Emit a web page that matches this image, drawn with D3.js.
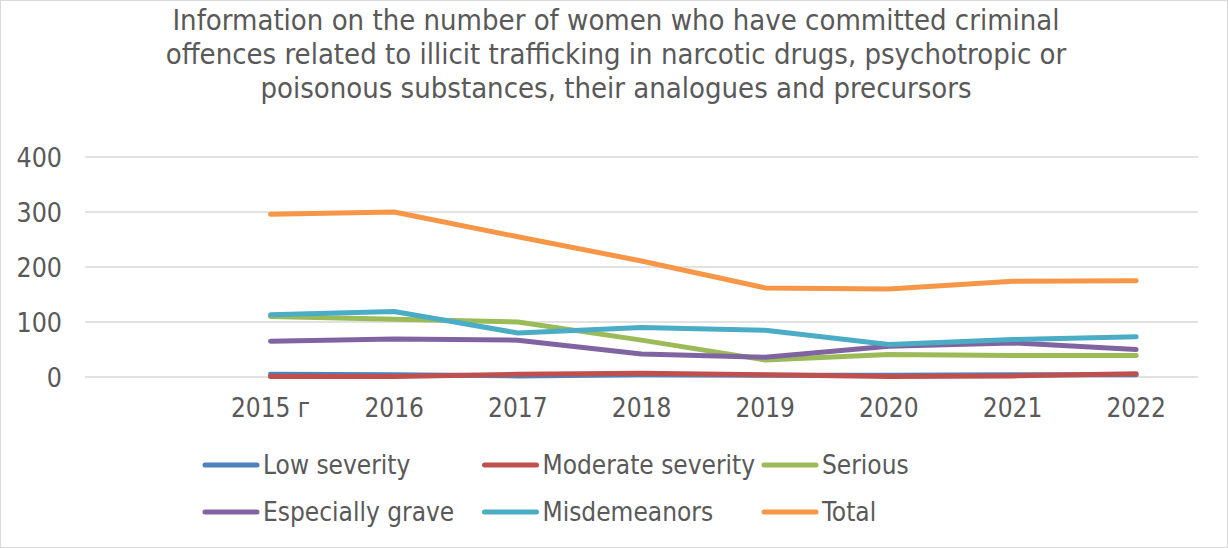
<!DOCTYPE html>
<meta charset="utf-8" />
<html>
  <style>
    body { margin: 0; background: #fff; }
    text { font-family: "DejaVu Sans Condensed", "DejaVu Sans", sans-serif; fill: #595959; }
    .grid line { stroke: #d9d9d9; stroke-width: 1.5px; }
    .series { fill: none; stroke-width: 5px; stroke-linecap: round; stroke-linejoin: round; }
  </style>
  <body>
    <svg width="1228" height="548"></svg>
    <script src="https://cdn.jsdelivr.net/npm/d3@7"></script>
    <script>
  // categories (first slot is empty, as in the original workbook)
  var years = ["", "2015 г", "2016", "2017", "2018", "2019", "2020", "2021", "2022"];
  var yTicks = [0, 100, 200, 300, 400];

  var seriesNames = ["Low severity", "Moderate severity", "Serious", "Especially grave", "Misdemeanors", "Total"];
  var lowSeverity = [5, 4, 2, 4, 3, 3, 4, 4];
  var moderateSeverity = [1, 1, 5, 7, 4, 1, 2, 6];
  var serious = [110, 105, 100, 67, 31, 41, 39, 39];
  var especiallyGrave = [65, 69, 67, 42, 36, 56, 62, 50];
  var misdemeanors = [113, 119, 80, 90, 85, 59, 68, 73];
  var total = [296, 300, 255, 211, 162, 160, 174, 175];

  var colors = ["#4f81bd", "#c0504d", "#9bbb59", "#8064a2", "#4bacc6", "#f79646"];
  var allSeries = [lowSeverity, moderateSeverity, serious, especiallyGrave, misdemeanors, total];

  var fontStack = "\"DejaVu Sans Condensed\", \"DejaVu Sans\", sans-serif";
  var svg = d3.select("svg");

  // chart frame
  svg.append("rect")
    .attr("x", 0.5).attr("y", 0.5)
    .attr("width", 1227).attr("height", 547)
    .attr("fill", "#fff")
    .attr("stroke", "#d9d9d9");

  // title
  var titleLines = [
    "Information on the number of women who have committed criminal",
    "offences related to illicit trafficking in narcotic drugs, psychotropic or",
    "poisonous substances, their analogues and precursors"
  ];
  svg.append("g").selectAll("text")
    .data(titleLines)
    .enter().append("text")
    .attr("x", 616)
    .attr("y", function (d, i) { return 30 + i * 34; })
    .attr("text-anchor", "middle")
    .attr("font-size", "29px")
    .text(function (d) { return d; });

  var x = d3.scaleBand().domain(years).range([85, 1198]);
  var y = d3.scaleLinear().domain([0, 400]).range([377, 157]);

  // gridlines
  svg.append("g").attr("class", "grid")
    .selectAll("line")
    .data(yTicks)
    .enter().append("line")
    .attr("x1", 85).attr("x2", 1198)
    .attr("y1", function (d) { return y(d); })
    .attr("y2", function (d) { return y(d); });

  // y axis
  var yAxis = svg.append("g")
    .attr("transform", "translate(85,0)")
    .call(d3.axisLeft(y).tickValues(yTicks).tickSize(0).tickPadding(23));
  yAxis.select(".domain").remove();
  yAxis.selectAll("text").attr("font-size", "26.5px").attr("dy", "0.35em")
    .style("font-family", fontStack).attr("fill", "#595959");

  // x axis
  var xAxis = svg.append("g")
    .attr("transform", "translate(0,377)")
    .call(d3.axisBottom(x).tickSize(0).tickPadding(22));
  xAxis.select(".domain").remove();
  xAxis.selectAll("text").attr("font-size", "26px")
    .style("font-family", fontStack).attr("fill", "#595959");

  // lines
  var line = d3.line()
    .x(function (d, i) { return x(years[i + 1]) + x.bandwidth() / 2; })
    .y(function (d) { return y(d); });

  svg.append("g").selectAll("path")
    .data(allSeries)
    .enter().append("path")
    .attr("class", "series")
    .attr("stroke", function (d, i) { return colors[i]; })
    .attr("d", line);

  // legend
  var legend = svg.append("g").selectAll("g")
    .data(seriesNames)
    .enter().append("g")
    .attr("transform", function (d, i) {
      return "translate(" + (205 + (i % 3) * 279.5) + "," + (465 + Math.floor(i / 3) * 47) + ")";
    });
  legend.append("line")
    .attr("x1", 0).attr("x2", 52)
    .attr("stroke", function (d, i) { return colors[i]; })
    .attr("stroke-width", 5)
    .attr("stroke-linecap", "round");
  legend.append("text")
    .attr("x", 58).attr("dy", "0.35em")
    .attr("font-size", "26px")
    .text(function (d) { return d; });
    </script>
  </body>
</html>
